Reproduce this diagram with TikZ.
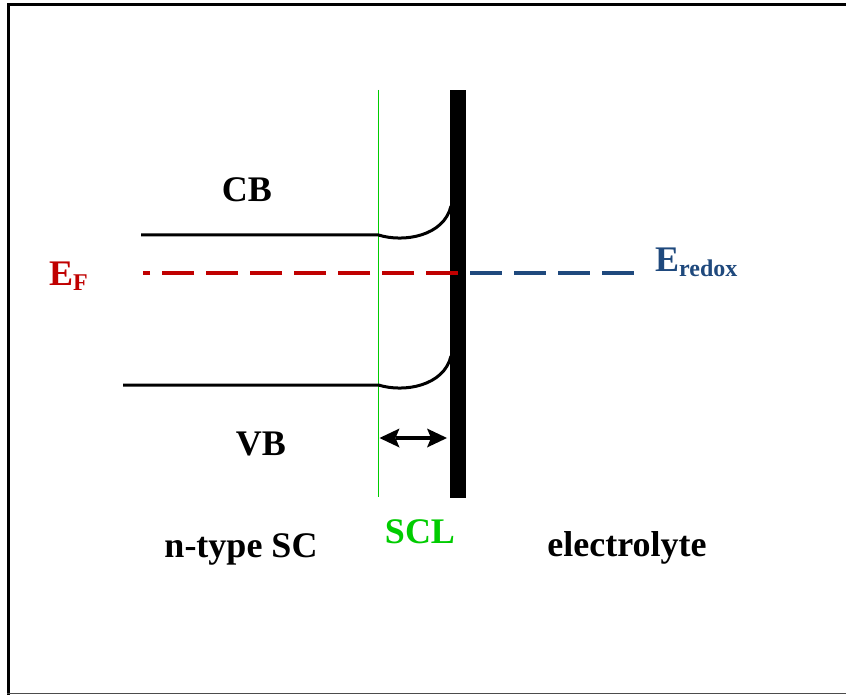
\documentclass[tikz,border=0pt]{standalone}
\usepackage{fontspec}
\setmainfont{Liberation Serif}
\usetikzlibrary{arrows.meta}
\definecolor{efred}{RGB}{192,0,0}
\definecolor{redoxblue}{RGB}{31,73,125}
\definecolor{sclgreen}{RGB}{0,204,0}
\tikzset{
  big/.style={font=\fontsize{36}{40}\selectfont\bfseries, inner sep=0pt, anchor=base},
  band/.style={line width=3pt, line cap=butt},
  level/.style={line width=3.5pt, dash pattern=on 32pt off 12pt},
  sclhead/.tip={Stealth[length=20pt,width=19pt,inset=4pt,line width=0pt]},
}
\begin{document}
\begin{tikzpicture}[x=1pt,y=-1pt]
\useasboundingbox (0,0) rectangle (846,695);
\fill[white] (0,0) rectangle (846,695);
% frame
\draw[line width=3pt] (8.5,697) -- (8.5,5) -- (850,5);
\draw[line width=1.2pt, black!70] (7,693.6) -- (850,693.6);
% green SCL boundary
\coordinate (gtop) at (378.5,90);
\coordinate (gbot) at (378.5,497);
\draw[sclgreen, line width=1pt] (gtop) -- (gbot);
% interface bar
\fill (450,90) rectangle (466,498);
% bands
\coordinate (cbL) at (141,235);
\coordinate (cbR) at (378.5,235);
\coordinate (cbE) at (451,206);
\draw[band] (cbL) -- (cbR) .. controls (404,243) and (444,236) .. (cbE);
\coordinate (vbL) at (123,385);
\coordinate (vbR) at (378.5,385);
\coordinate (vbE) at (451,356);
\draw[band] (vbL) -- (vbR) .. controls (404,393) and (444,386) .. (vbE);
% Fermi level and redox level
\coordinate (efR) at (458,273);
\coordinate (efL) at (143,273);
\draw[level, efred] (efR) -- (efL);
\coordinate (rdL) at (470,273);
\coordinate (rdR) at (634,273);
\draw[level, redoxblue] (rdL) -- (rdR);
% SCL width arrow
\coordinate (aL) at (379.5,438);
\coordinate (aR) at (447,438);
\draw[line width=3.5pt, sclhead-sclhead] (aL) -- (aR);
% labels
\node[big] (cb) at (247,202) {CB};
\node[big] (vb) at (261,455) {VB};
\node[big] (nsc) at (241,557) {n-type SC};
\node[big, sclgreen] (scl) at (420,543) {SCL};
\node[big] (ely) at (627,556) {electrolyte};
\node[big, anchor=base west, efred] (ef) at (49,285) {E\raisebox{-5pt}{\fontsize{24}{28}\selectfont F}};
\node[big, anchor=base west, redoxblue] (er) at (655,272) {E\raisebox{-5pt}{\fontsize{24}{28}\selectfont redox}};
\end{tikzpicture}
\end{document}
